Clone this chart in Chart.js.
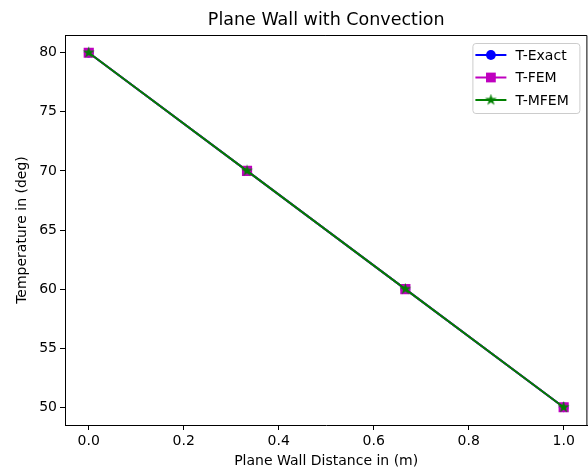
<!DOCTYPE html>
<html>
<head>
<meta charset="utf-8">
<script src="https://cdn.jsdelivr.net/npm/chart.js@4"></script>
<style>
html, body { margin: 0; padding: 0; background: #fff; overflow: hidden; }
#wrap { width: 640px; height: 471px; }
</style>
</head>
<body>
<div id="wrap"><canvas id="plot" width="588" height="471"></canvas></div>
<script>
// data
const distance = [0.0, 0.3333, 0.6667, 1.0];
const tExact = [80, 70, 60, 50];
const tFem = [80, 70, 60, 50];
const tMfem = [80, 70, 60, 50];
const seriesNames = ['T-Exact', 'T-FEM', 'T-MFEM'];
const xTicks = [0.0, 0.2, 0.4, 0.6, 0.8, 1.0];
const yTicks = [50, 55, 60, 65, 70, 75, 80];

const FONT = 'DejaVu Sans';

// filled five point star, like matplotlib's '*' marker
function makeStar(color, r) {
    const size = Math.ceil(r * 2 + 4);
    const c = document.createElement('canvas');
    c.width = size; c.height = size;
    const g = c.getContext('2d');
    const cx = size / 2, cy = size / 2;
    g.beginPath();
    for (let i = 0; i < 10; i++) {
        const rad = i % 2 === 0 ? r : r * 0.382;
        const a = -Math.PI / 2 + i * Math.PI / 5;
        const px = cx + rad * Math.cos(a), py = cy + rad * Math.sin(a);
        if (i === 0) g.moveTo(px, py); else g.lineTo(px, py);
    }
    g.closePath();
    g.fillStyle = color;
    g.strokeStyle = color;
    g.lineWidth = 1.2;
    g.fill();
    g.stroke();
    return c;
}
const starMarker = makeStar('#008000', 4.2);

function toPoints(ys) {
    return distance.map((x, i) => ({ x: x, y: ys[i] }));
}

// draws the top and right spines
const framePlugin = {
    id: 'frame',
    afterDraw(chart) {
        const { ctx, chartArea: a } = chart;
        ctx.save();
        ctx.strokeStyle = '#000';
        ctx.lineWidth = 1;
        ctx.beginPath();
        ctx.moveTo(a.left, a.top + 0.5);
        ctx.lineTo(a.right - 0.5, a.top + 0.5);
        ctx.lineTo(a.right - 0.5, a.bottom);
        ctx.stroke();
        ctx.restore();
    }
};

// legend inside the top right corner of the axes
const innerLegend = {
    id: 'innerLegend',
    afterDraw(chart) {
        const { ctx, chartArea: a } = chart;
        const w = 107, h = 70;
        const left = a.right - 8 - w, top = a.top + 8;
        ctx.save();
        ctx.beginPath();
        ctx.roundRect(left + 0.5, top + 0.5, w, h, 3);
        ctx.fillStyle = 'rgba(255,255,255,0.8)';
        ctx.fill();
        ctx.strokeStyle = '#cccccc';
        ctx.lineWidth = 1;
        ctx.stroke();
        chart.data.datasets.forEach((ds, i) => {
            const y = top + 12 + i * 22.5;
            ctx.strokeStyle = ds.borderColor;
            ctx.lineWidth = 2;
            ctx.beginPath();
            ctx.moveTo(left + 3, y);
            ctx.lineTo(left + 34, y);
            ctx.stroke();
            const mx = left + 18.5;
            ctx.fillStyle = ds.backgroundColor;
            if (ds.pointStyle === 'circle') {
                ctx.beginPath();
                ctx.arc(mx, y, ds.pointRadius + 0.5, 0, Math.PI * 2);
                ctx.fill();
            } else if (ds.pointStyle === 'rect') {
                const s = ds.pointRadius * Math.SQRT1_2 + 0.5;
                ctx.fillRect(mx - s, y - s, 2 * s, 2 * s);
            } else {
                const img = ds.pointStyle;
                ctx.drawImage(img, mx - img.width / 2, y - img.height / 2);
            }
            ctx.fillStyle = '#000';
            ctx.font = '14px "' + FONT + '"';
            ctx.textBaseline = 'middle';
            ctx.fillText(ds.label, left + 43, y + 1);
        });
        ctx.restore();
    }
};

const chart = new Chart(document.getElementById('plot'), {
    type: 'line',
    data: {
        datasets: [
            {
                label: seriesNames[0], data: toPoints(tExact),
                borderColor: '#0000ff', backgroundColor: '#0000ff',
                pointStyle: 'circle', pointRadius: 4.4, pointBorderWidth: 1,
                borderWidth: 2, order: 3
            },
            {
                label: seriesNames[1], data: toPoints(tFem),
                borderColor: '#bf00bf', backgroundColor: '#bf00bf',
                pointStyle: 'rect', pointRadius: 6.2, pointBorderWidth: 1.4,
                borderWidth: 2, order: 2
            },
            {
                label: seriesNames[2], data: toPoints(tMfem),
                borderColor: '#008000', backgroundColor: '#008000',
                pointStyle: starMarker, pointRadius: 4,
                borderWidth: 2, order: 1
            }
        ]
    },
    options: {
        responsive: false,
        maintainAspectRatio: false,
        animation: false,
        layout: { padding: { left: 0, right: 1, top: 0, bottom: 0 } },
        plugins: {
            legend: { display: false },
            tooltip: { enabled: false },
            title: {
                display: true,
                fullSize: false, // centre over the axes like matplotlib
                text: 'Plane Wall with Convection',
                color: '#000',
                font: { family: FONT, size: 17.5, weight: 'normal' },
                padding: { top: 10, bottom: 4 }
            }
        },
        scales: {
            x: {
                type: 'linear',
                min: -0.05, max: 1.05,
                afterFit: s => { s.height = 46; s.paddingLeft = 0; s.paddingRight = 0; },
                afterBuildTicks: s => { s.ticks = xTicks.map(v => ({ value: v })); },
                ticks: {
                    callback: v => v.toFixed(1),
                    color: '#000',
                    font: { family: FONT, size: 14 },
                    padding: 3,
                    maxRotation: 0,
                    autoSkip: false
                },
                grid: { drawOnChartArea: false, tickLength: 5, color: '#000' },
                border: { color: '#000', width: 1 },
                title: {
                    display: true,
                    text: 'Plane Wall Distance in (m)',
                    color: '#000',
                    font: { family: FONT, size: 14 },
                    padding: { top: 0, bottom: 1 }
                }
            },
            y: {
                type: 'linear',
                min: 48.5, max: 81.5,
                afterFit: s => { s.width = 65; s.paddingTop = 0; s.paddingBottom = 0; },
                afterBuildTicks: s => { s.ticks = yTicks.map(v => ({ value: v })); },
                ticks: {
                    color: '#000',
                    font: { family: FONT, size: 14 },
                    padding: 3,
                    autoSkip: false
                },
                grid: { drawOnChartArea: false, tickLength: 5, color: '#000' },
                border: { color: '#000', width: 1 },
                title: {
                    display: true,
                    text: 'Temperature in (deg)',
                    color: '#000',
                    font: { family: FONT, size: 14 },
                    padding: { top: 14, bottom: 0 }
                }
            }
        }
    },
    plugins: [framePlugin, innerLegend]
});

// Chart.js keeps a few px of right margin for the last tick label;
// widen the canvas past the window so the axes reach the edge like the original
for (let pass = 0; pass < 2; pass++) {
    const gap = Math.round(587 - chart.chartArea.right);
    if (gap === 0) break;
    chart.resize(chart.width + gap, 471);
}
</script>
</body>
</html>
